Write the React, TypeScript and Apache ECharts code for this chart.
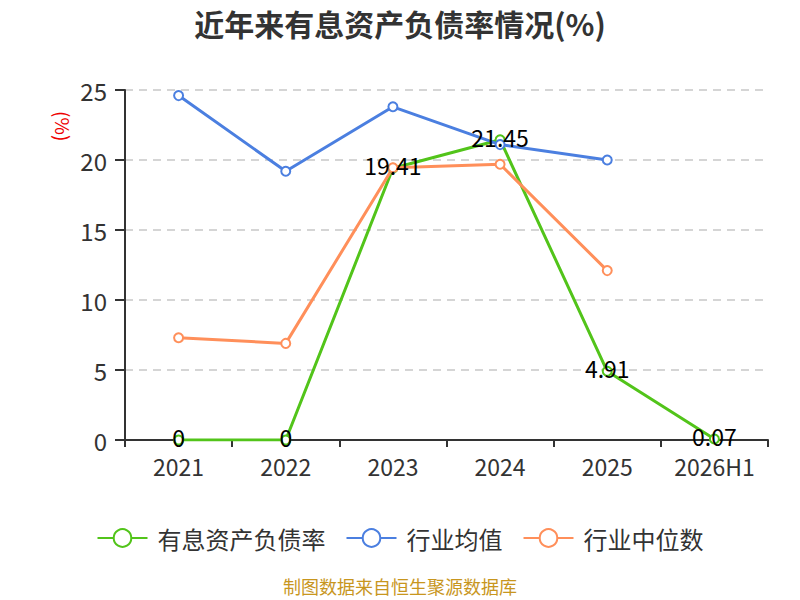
import React, { useEffect, useRef } from 'react';
import * as echarts from 'echarts';

const categories = ['2021', '2022', '2023', '2024', '2025', '2026H1'];
const debtRatio = [0, 0, 19.41, 21.45, 4.91, 0.07];
const industryAvg = [24.6, 19.2, 23.8, 21.1, 20.0, null];
const industryMedian = [7.3, 6.9, 19.45, 19.7, 12.1, null];

const FONT = "'Noto Sans CJK SC', 'Noto Sans', sans-serif";

const App: React.FC = () => {
  const chartRef = useRef<HTMLDivElement>(null);

  useEffect(() => {
    document.body.style.margin = '0';
    const chart = echarts.init(chartRef.current!, null, { renderer: 'svg' });

    const lineSeries = (name: string, data: (number | null)[], color: string, withLabel: boolean) => ({
      name,
      type: 'line',
      data,
      symbol: 'emptyCircle',
      symbolSize: 9,
      lineStyle: { width: 3, color },
      itemStyle: { color, borderWidth: 2 },
      label: withLabel
        ? { show: true, position: 'inside', offset: [0, -3], color: '#000', fontSize: 23, lineHeight: 20, fontFamily: FONT }
        : { show: false }
    });

    const option = {
      animation: false,
      backgroundColor: '#fff',
      textStyle: { fontFamily: FONT },
      title: {
        text: '近年来有息资产负债率情况(%)',
        left: 'center',
        top: 3,
        textStyle: { color: '#333', fontSize: 30, fontWeight: 'bold', fontFamily: FONT }
      },
      grid: { left: 125, right: 32, top: 90, bottom: 160 },
      legend: {
        top: 521,
        left: 'center',
        itemWidth: 50,
        itemHeight: 22,
        itemGap: 20,
        textStyle: { fontSize: 24, color: '#333', fontFamily: FONT, padding: [0, 0, 0, 5] },
        data: ['有息资产负债率', '行业均值', '行业中位数']
      },
      xAxis: {
        type: 'category',
        data: categories,
        axisLine: { lineStyle: { color: '#333', width: 2 } },
        axisTick: { show: true, interval: 0, alignWithLabel: false, length: 7, lineStyle: { color: '#333', width: 2 } },
        axisLabel: { interval: 0, fontSize: 23, lineHeight: 22, color: '#333', margin: 15, fontFamily: FONT }
      },
      yAxis: {
        type: 'value',
        min: 0,
        max: 25,
        interval: 5,
        axisLine: { show: true, lineStyle: { color: '#333', width: 2 } },
        axisTick: { show: true, length: 10, lineStyle: { color: '#333', width: 2 } },
        axisLabel: { fontSize: 24, color: '#333', margin: 18, fontFamily: FONT },
        splitLine: { lineStyle: { type: [8, 6], color: '#c8c8c8', width: 1.5 } }
      },
      graphic: [
        {
          type: 'text',
          x: 73,
          y: 111,
          rotation: -Math.PI / 2,
          style: { text: '(%)', fill: '#e00', fontSize: 19, fontFamily: FONT }
        },
        {
          type: 'text',
          left: 'center',
          top: 577,
          style: { text: '制图数据来自恒生聚源数据库', fill: '#c8961e', fontSize: 18, fontFamily: FONT }
        }
      ],
      series: [
        lineSeries('有息资产负债率', debtRatio, '#52c41a', true),
        lineSeries('行业均值', industryAvg, '#4b7fe0', false),
        lineSeries('行业中位数', industryMedian, '#ff8f5a', false)
      ]
    };

    chart.setOption(option as any);

    return () => {
      chart.dispose();
    };
  }, []);

  return <div ref={chartRef} style={{ width: '800px', height: '600px' }} />;
};

export default App;
